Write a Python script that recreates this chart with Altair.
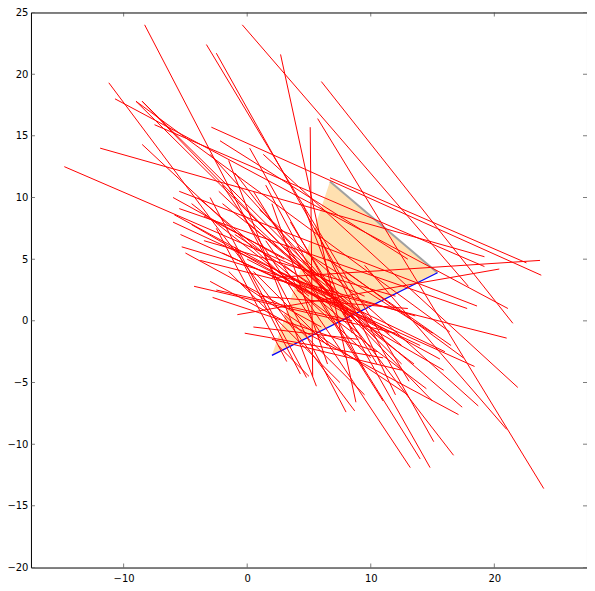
import pandas as pd
import altair as alt

# red segments (start x, start y, end x, end y)
x1 = [-14.8, -11.9, -11.2, -10.7, -9.0, -9.0, -8.5, -8.5, -7.5, -2.9, -8.5, -8.3, -3.3, -2.5, -0.4,
      2.7, 6.0, 5.7, 6.7, 5.1, 2.0, -0.8, 1.3, 0.2, -5.5, -5.5, -5.9, -4.5, -5.4, -5.3,
      -3.8, -4.3, -3.0, -2.8, -0.2, -1.0, -2.0, 0.5, 1.0, 0.0, -1.5, -3.0, -1.0, -2.5, 9.5,
      -6.0, -4.0, -3.5, -2.0, 3.0, 2.5, 1.0, 0.5, -5.0, -1.5, 3.5, 4.0, -2.0, 1.5, -0.5,
      2.0, -4.5, 6.5, 5.0, 3.0, -3.0, 8.0, -6.0, 4.5, 2.5, -2.3, -2.2,
      -1.0, 0.0, 1.5, 3.0, -3.5, 2.0, 4.0, -2.5, 5.5, 0.5]
y1 = [12.5, 14.0, 19.3, 18.0, 17.8, 17.8, 17.8, 17.8, 15.9, 15.7, 14.3, 24.0, 22.4, 21.7, 24.0,
      21.6, 19.4, 16.4, 11.6, 15.7, 3.5, 0.5, 13.5, 14.0, 10.5, 9.1, 8.6, 7.8, 7.0, 6.0,
      4.9, 2.8, 3.2, 1.9, -1.0, 12.0, 11.0, 10.5, 9.0, 8.0, 13.0, 10.0, 6.0, 7.5, 4.5,
      8.0, 10.0, 6.5, 5.5, 6.0, 4.0, 2.0, -0.5, 5.5, 4.0, 8.0, 2.5, 9.5, 11.0, 3.0,
      -1.5, 9.5, 5.0, 3.0, 0.5, 13.5, 4.0, 10.0, 9.5, -2.0, 10.5, 14.6,
      7.0, 5.0, 6.5, 4.5, 8.5, 9.5, 6.0, 2.5, 7.5, 4.0]
x2 = [9.5, 19.2, 8.7, 21.1, 12.5, 16.4, 15.0, 11.0, 19.2, 23.8, 10.0, 8.0, 13.1, 15.1, 17.9,
      8.8, 21.5, 24.0, 22.6, 5.3, 23.7, 20.4, 21.9, 14.8, 18.6, 17.8, 15.6, 15.9, 18.4, 13.6,
      21.0, 12.0, 17.1, 10.5, 11.0, 16.7, 13.2, 14.0, 18.7, 17.4, 5.6, 4.8, 4.3, 3.2, 21.0,
      8.0, 9.0, 12.0, 14.0, 12.5, 16.0, 13.0, 9.0, 6.0, 7.5, 10.5, 14.5, 10.0, 9.5, 13.0,
      12.5, 5.0, 16.5, 11.0, 9.5, 7.0, 17.5, 3.0, 8.5, 5.0, 10.5, 13.0,
      9.0, 11.5, 8.0, 13.5, 7.0, 6.5, 15.0, 8.5, 12.0, 6.5]
y2 = [2.0, 5.2, -7.3, 1.0, -3.5, -0.9, -6.5, -1.5, 4.4, 3.7, -3.0, -7.4, -4.9, -9.8, 2.8,
      -6.6, -0.2, -13.6, 4.7, -4.5, 4.9, 4.2, -5.4, -11.9, 1.2, 1.0, -3.1, -4.0, -3.7, 0.4,
      -1.4, -1.0, -7.6, -2.5, -3.0, -10.9, -11.9, -11.2, -6.9, -7.0, -5.3, -4.6, -4.3, -3.3, -8.8,
      1.5, -1.0, 2.0, -2.0, -2.0, -2.5, 1.0, -1.5, -0.5, -5.0, -3.5, -5.5, 0.0, -4.0, -6.0,
      -4.0, 2.0, -2.0, -6.5, -6.0, 2.5, -3.0, 5.0, -1.0, -4.5, -1.5, 5.0,
      0.5, -1.0, -3.0, -3.5, 3.0, -3.5, -1.0, 0.0, -6.0, -2.0]

# triangle: lower-left, top and right corners
tri_x = [2.0, 6.7, 15.4]
tri_top = [-2.8, 11.3, 3.9]
tri_bottom = [-2.8, -0.45, 3.9]

x_ticks = [-10, 0, 10, 20]
y_ticks = [-20, -15, -10, -5, 0, 5, 10, 15, 20, 25]
x_dom = [-17.5, 27.5]
y_dom = [-20, 25]

segs = pd.DataFrame({"x1": x1, "y1": y1, "x2": x2, "y2": y2})
tri = pd.DataFrame({"x": tri_x, "top": tri_top, "bottom": tri_bottom})
gray_edge = pd.DataFrame({"x1": [tri_x[1]], "y1": [tri_top[1]], "x2": [tri_x[2]], "y2": [tri_top[2]]})
blue_edge = pd.DataFrame({"x1": [tri_x[0]], "y1": [tri_bottom[0]], "x2": [tri_x[2]], "y2": [tri_bottom[2]]})

xs = alt.Scale(domain=x_dom, nice=False, zero=False)
ys = alt.Scale(domain=y_dom, nice=False, zero=False)
xax = alt.Axis(values=x_ticks, ticks=False, domain=False, grid=False, labelPadding=6, title=None)
yax = alt.Axis(values=y_ticks, ticks=False, domain=False, grid=False, labelPadding=3, title=None)

fill = alt.Chart(tri).mark_area(color="#ffe0b0", opacity=1).encode(
    x=alt.X("x:Q", scale=xs, axis=xax),
    y=alt.Y("top:Q", scale=ys, axis=yax),
    y2="bottom:Q",
)

gray = alt.Chart(gray_edge).mark_rule(color="#a0a0a0", strokeWidth=2).encode(
    x=alt.X("x1:Q", scale=xs), y=alt.Y("y1:Q", scale=ys), x2="x2:Q", y2="y2:Q"
)
blue = alt.Chart(blue_edge).mark_rule(color="#0000ff", strokeWidth=1.2).encode(
    x=alt.X("x1:Q", scale=xs), y=alt.Y("y1:Q", scale=ys), x2="x2:Q", y2="y2:Q"
)
red = alt.Chart(segs).mark_rule(color="#ff0000", strokeWidth=1).encode(
    x=alt.X("x1:Q", scale=xs), y=alt.Y("y1:Q", scale=ys), x2="x2:Q", y2="y2:Q"
)

# matplotlib-style inward ticks on all four sides
xt = pd.DataFrame({"v": x_ticks})
yt = pd.DataFrame({"v": y_ticks})
ticks = []
for yv in y_dom:
    ticks.append(alt.Chart(xt).mark_tick(color="#444", size=8, thickness=1, clip=True, orient="vertical").encode(
        x=alt.X("v:Q", scale=xs), y=alt.datum(yv, scale=ys)))
for xv in x_dom:
    ticks.append(alt.Chart(yt).mark_tick(color="#444", size=8, thickness=1, clip=True, orient="horizontal").encode(
        y=alt.Y("v:Q", scale=ys), x=alt.datum(xv, scale=xs)))

chart = alt.layer(fill, gray, blue, red, *ticks).properties(
    width=557, height=556,
    autosize=alt.AutoSizeParams(type="none"),
    padding={"left": 23, "top": 4, "right": 0, "bottom": 15},
).configure_view(stroke="black", strokeWidth=1).configure_axis(
    labelFont="DejaVu Sans", labelFontSize=10, labelColor="black"
)

chart.save("out.html", embed_options={"renderer": "svg", "actions": False})
